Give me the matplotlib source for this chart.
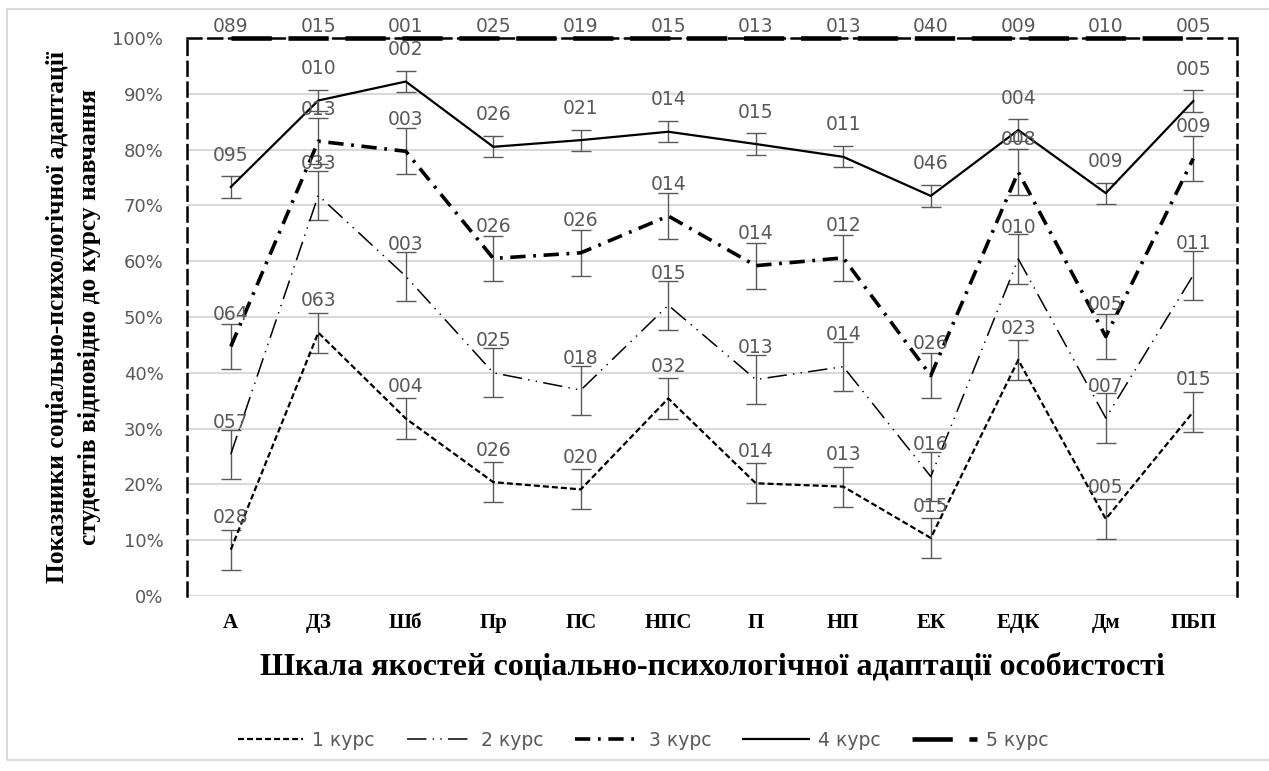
import matplotlib.pyplot as plt
from matplotlib.ticker import FuncFormatter
from matplotlib.patches import Rectangle

plt.rcParams['lines.scale_dashes'] = False

categories = ["А", "ДЗ", "Шб", "Пр", "ПС", "НПС", "П", "НП", "ЕК", "ЕДК", "Дм", "ПБП"]
series_names = ["1 курс", "2 курс", "3 курс", "4 курс", "5 курс"]

k1 = [8.3, 47.2, 31.8, 20.4, 19.1, 35.4, 20.2, 19.6, 10.4, 42.3, 13.8, 33.0]
k2 = [25.4, 71.8, 57.3, 40.0, 36.9, 52.1, 38.8, 41.1, 21.4, 60.4, 31.9, 57.5]
k3 = [44.7, 81.5, 79.7, 60.5, 61.5, 68.1, 59.2, 60.6, 39.5, 76.0, 46.5, 78.4]
k4 = [73.3, 88.8, 92.2, 80.5, 81.7, 83.2, 81.0, 78.7, 71.7, 83.5, 72.2, 88.7]
k5 = [100, 100, 100, 100, 100, 100, 100, 100, 100, 100, 100, 100]

# error bar half-widths, %
errors = [3.6, 4.4, 4.1, 1.9, 0.0]

lab1 = ["028", "063", "004", "026", "020", "032", "014", "013", "015", "023", "005", "015"]
lab2 = ["057", "033", "003", "025", "018", "015", "013", "014", "016", "010", "007", "011"]
lab3 = ["064", "013", "003", "026", "026", "014", "014", "012", "026", "008", "005", "009"]
lab4 = ["095", "010", "002", "026", "021", "014", "015", "011", "046", "004", "009", "005"]
lab5 = ["089", "015", "001", "025", "019", "015", "013", "013", "040", "009", "010", "005"]

values = [k1, k2, k3, k4, k5]
labels = [lab1, lab2, lab3, lab4, lab5]
styles = [
    dict(lw=1.6, ls=(0, (4.3, 2.2))),
    dict(lw=1.1, ls=(0, (14, 4.5, 1, 4.5, 1, 4.5))),
    dict(lw=2.6, ls=(0, (11, 5.5, 2, 5.5))),
    dict(lw=1.6, ls="-"),
    dict(lw=3.3, ls=(0, (29, 12))),
]
label_offsets = [23, 23, 23, 23, 8]

fig = plt.figure(figsize=(12.69, 7.71), dpi=100)
ax = fig.add_axes([0.1474, 0.227, 0.8274, 0.7237])

x = list(range(len(categories)))
gray = "#595959"
for vals, errs, labs, st, name, off in zip(values, errors, labels, styles, series_names, label_offsets):
    ax.plot(x, vals, color="black", label=name, clip_on=False, zorder=3, **st)
    if errs > 0:
        ax.errorbar(x, vals, yerr=errs, fmt="none", ecolor=gray, elinewidth=1.0,
                    capsize=7.5, capthick=1.0, zorder=2)
    for xi, v, t in zip(x, vals, labs):
        ax.annotate(t, xy=(xi, v), xytext=(0, off), textcoords="offset points",
                    ha="center", va="center", fontsize=13.5, color=gray,
                    annotation_clip=False, zorder=4)

ax.set_xlim(-0.5, len(categories) - 0.5)
ax.set_ylim(0, 100)
ax.set_yticks(range(0, 101, 10))
ax.yaxis.set_major_formatter(FuncFormatter(lambda v, p: f"{int(v)}%"))
ax.grid(axis="y", color="#d9d9d9", lw=1.5, zorder=0)
ax.set_axisbelow(True)
ax.tick_params(axis="y", length=0, pad=17, labelsize=13, labelcolor=gray)
ax.tick_params(axis="x", length=0, pad=12)
ax.set_xticks(x)
ax.set_xticklabels(categories, family="Liberation Serif", fontweight="bold", fontsize=15)

for side in ["left", "right", "top"]:
    ax.spines[side].set_linestyle((0, (10, 5)))
    ax.spines[side].set_linewidth(1.8)
    ax.spines[side].set_color("black")
ax.spines["bottom"].set_visible(False)

ax.set_xlabel("Шкала якостей соціально-психологічної адаптації особистості",
              family="Liberation Serif", fontweight="bold", fontsize=23, labelpad=14)
fig.text(0.0449, 0.589, "Показники соціально-психологічної адаптації",
         rotation=90, ha="center", va="center", family="Liberation Serif",
         fontweight="bold", fontsize=18.4)
fig.text(0.0709, 0.589, "студентів відповідно до курсу навчання",
         rotation=90, ha="center", va="center", family="Liberation Serif",
         fontweight="bold", fontsize=18.4)

ax.legend(loc="center", bbox_to_anchor=(0.507, 0.04), bbox_transform=fig.transFigure,
          ncol=5, frameon=False, handlelength=3.47, handletextpad=0.48,
          columnspacing=1.7, fontsize=13.5, labelcolor=gray)

fig.patches.append(Rectangle((0.0055, 0.014), 1.0, 0.974, transform=fig.transFigure,
                             fill=False, edgecolor="#d9d9d9", lw=1.5))

plt.savefig("out.png")
